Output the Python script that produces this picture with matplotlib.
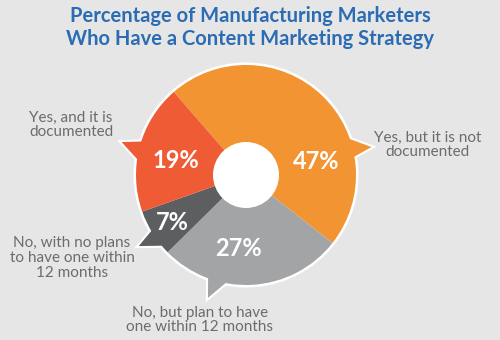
import numpy as np
import matplotlib.pyplot as plt
from matplotlib.patches import Circle, Polygon

plt.rcParams['font.family'] = ['Lato', 'DejaVu Sans']

# ---------------------------------------------------------------------------
# Data
# ---------------------------------------------------------------------------
categories = ["Yes, but it is not\ndocumented",
              "No, but plan to have\none within 12 months",
              "No, with no plans\nto have one within\n12 months",
              "Yes, and it is\ndocumented"]
shares = [47, 27, 7, 19]
colors = ["#f39433", "#a3a4a6", "#5d5e60", "#ef5b35"]

# where along each wedge the bubble tail and the percentage sit (0..1, ccw)
tail_frac = [0.30, 0.29, 0.56, 0.50]
label_frac = [0.29, 0.41, 0.54, 0.54]
label_rad = [0.65, 0.67, 0.80, 0.65]

# category text positions (pixels, y measured from the top) and alignment
cat_xy = [(428, 145), (200, 320), (72, 258), (29, 125)]
cat_ha = ["center", "center", "center", "left"]

BG = "#e6e6e6"
TEXT = "#6b6c6e"
TITLE = "#2b6cb3"

# ---------------------------------------------------------------------------
# Figure in pixel coordinates
# ---------------------------------------------------------------------------
W, H = 500, 340
fig = plt.figure(figsize=(W / 100, H / 100), dpi=100, facecolor=BG)
ax = fig.add_axes([0, 0, 1, 1])
ax.set_facecolor(BG)

cx, cy = 246, H - 175
R = 110

wedges, _ = ax.pie(shares, colors=colors, startangle=131, counterclock=False,
                   radius=R, center=(cx, cy), wedgeprops=dict(linewidth=0))
for w in wedges:
    w.set_zorder(3)


def polar(ang, r):
    a = np.deg2rad(ang)
    return cx + r * np.cos(a), cy + r * np.sin(a)


# white rim behind the donut
ax.add_patch(Circle((cx, cy), R + 2.5, facecolor="white", edgecolor="none", zorder=1))

for w, col, tf, lf, lr, val in zip(wedges, colors, tail_frac, label_frac, label_rad, shares):
    span = w.theta2 - w.theta1
    tip_ang = w.theta1 + tf * span
    pts = [polar(tip_ang - 4, R * 0.95), polar(tip_ang, R * 1.17),
           polar(tip_ang + 9, R * 0.95)]
    ax.add_patch(Polygon(pts, closed=True, facecolor="white", edgecolor="white",
                         linewidth=3, joinstyle="miter", zorder=1.5))
    ax.add_patch(Polygon(pts, closed=True, facecolor=col, edgecolor="none", zorder=2))

    lx, ly = polar(w.theta1 + lf * span, R * lr)
    ax.text(lx, ly, f"{val}%", color="white", fontsize=17, fontweight="bold",
            ha="center", va="center", zorder=5)

# centre hole
ax.add_patch(Circle((cx, cy), 33, facecolor="white", edgecolor="none", zorder=4))

for label, (x, y), ha in zip(categories, cat_xy, cat_ha):
    ax.text(x, H - y, label, color=TEXT, fontsize=11, ha=ha, va="center",
            linespacing=1.05, zorder=5)

ax.text(250, H - 16, "Percentage of Manufacturing Marketers", color=TITLE,
        fontsize=14.5, fontweight="bold", ha="center", va="center")
ax.text(250, H - 39, "Who Have a Content Marketing Strategy", color=TITLE,
        fontsize=14.5, fontweight="bold", ha="center", va="center")

ax.set_xlim(0, W)
ax.set_ylim(0, H)
ax.set_aspect("auto")
ax.axis("off")

fig.savefig("out.png", dpi=100, facecolor=BG)
